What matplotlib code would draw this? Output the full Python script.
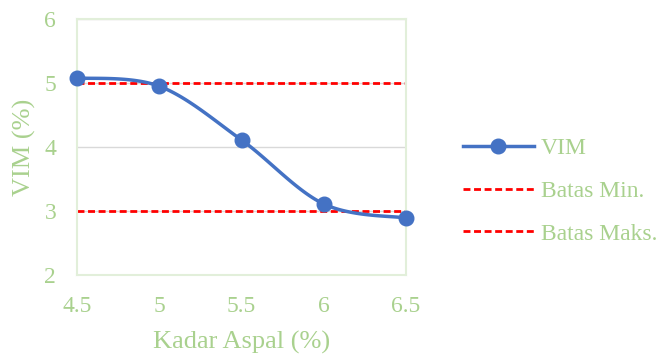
import numpy as np
import matplotlib.pyplot as plt

#--------------------------------
kadar_aspal = [4.5, 5.0, 5.5, 6.0, 6.5]
vim = [5.08, 4.95, 4.11, 3.11, 2.89]
batas_min = [5, 5, 5, 5, 5]
batas_maks = [3, 3, 3, 3, 3]
xticks = [4.5, 5, 5.5, 6, 6.5]
yticks = [2, 3, 4, 5, 6]

GREEN = '#A9D18E'
BLUE = '#4472C4'

#--------------------------------
def smoothCurve(x, y, n=30) :
    # Excel style smoothing: cubic bezier with Catmull-Rom control points
    x = np.asarray(x, float); y = np.asarray(y, float)
    px = np.concatenate([[x[0]], x, [x[-1]]])
    py = np.concatenate([[y[0]], y, [y[-1]]])
    xs, ys = [], []
    t = np.linspace(0, 1, n)
    for i in range(1, len(px) - 2) :
        p0 = np.array([px[i], py[i]]); p3 = np.array([px[i+1], py[i+1]])
        c1 = p0 + (np.array([px[i+1], py[i+1]]) - np.array([px[i-1], py[i-1]])) / 6
        c2 = p3 - (np.array([px[i+2], py[i+2]]) - np.array([px[i], py[i]])) / 6
        b = ((1-t)**3)[:, None]*p0 + (3*(1-t)**2*t)[:, None]*c1 + (3*(1-t)*t**2)[:, None]*c2 + (t**3)[:, None]*p3
        xs.extend(b[:, 0]); ys.extend(b[:, 1])
    return np.array(xs), np.array(ys)

#--------------------------------
plt.rcParams['font.family'] = ['Liberation Serif', 'DejaVu Serif']

fig = plt.figure(figsize=(6.59, 3.56), dpi=100)
ax = fig.add_axes([77/659, 1-275/356, (406-77)/659, (275-19)/356])

sx, sy = smoothCurve(kadar_aspal, vim)
ax.plot(sx, sy, color=BLUE, lw=2.5, zorder=3, clip_on=False)
ax.plot(kadar_aspal, vim, 'o', color=BLUE, ms=10.5, zorder=4, clip_on=False)
ax.plot([], [], '-o', color=BLUE, lw=2.5, ms=10.5, label='VIM')
ax.plot(kadar_aspal, batas_min, '--', color='#FF0000', lw=2, dashes=(2.5, 1.3), label='Batas Min.', zorder=2)
ax.plot(kadar_aspal, batas_maks, '--', color='#FF0000', lw=2, dashes=(2.5, 1.3), label='Batas Maks.', zorder=2)

ax.set_xlim(4.5, 6.5)
ax.set_ylim(2, 6)
ax.set_xticks(xticks)
ax.set_xticklabels(['4.5', '5', '5.5', '6', '6.5'])
ax.set_yticks(yticks)
ax.grid(axis='y', color='#D9D9D9', lw=1, zorder=0)
for s in ax.spines.values() :
    s.set_color('#E2EFDA')
    s.set_linewidth(1.5)
ax.tick_params(length=0, colors=GREEN, labelsize=17)
ax.tick_params(axis='x', pad=15)
ax.tick_params(axis='y', pad=15)
ax.set_xlabel('Kadar Aspal (%)', color=GREEN, fontsize=19, labelpad=10)
ax.set_ylabel('VIM (%)', color=GREEN, fontsize=19, labelpad=6)

leg = fig.legend(loc='center left', bbox_to_anchor=(463/659, 1-191/356), frameon=False,
                 fontsize=17, handlelength=3.0, labelspacing=0.9,
                 handletextpad=0.3, borderaxespad=0, borderpad=0)
for t in leg.get_texts() :
    t.set_color(GREEN)

fig.savefig('out.png', dpi=100)
